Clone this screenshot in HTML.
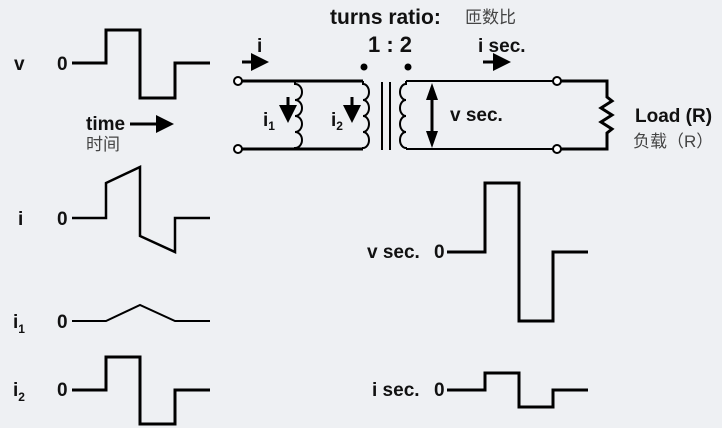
<!DOCTYPE html>
<html><head><style>
html,body{margin:0;padding:0;background:#eef0f3;}
svg{display:block;font-family:"Liberation Sans","Noto Sans CJK SC",sans-serif;}
.b{font-weight:bold;font-size:19px;fill:#111}
.c{font-size:17px;fill:#444}
</style></head><body>
<svg width="722" height="428" viewBox="0 0 722 428">
<defs><marker id="ah" markerWidth="6" markerHeight="6" refX="5" refY="3" orient="auto" markerUnits="strokeWidth"><path d="M0,0L6,3L0,6Z" fill="#000"/></marker></defs>
<g fill="none" stroke="#000" stroke-width="3">
<polyline points="72,63 106,63 106,30 140,30 140,98 175,98 175,63 210,63"/>
<polyline points="72,218 106,218 106,183 140,167 140,236 175,252 175,218 210,218" stroke-width="2.5"/>
<polyline points="72,321 106,321 140,305 175,321 210,321" stroke-width="2"/>
<polyline points="72,390 106,390 106,357 140,357 140,424 175,424 175,390 210,390"/>
<polyline points="447,252 485,252 485,183 519,183 519,321 553,321 553,252 588,252"/>
<polyline points="447,390 485,390 485,373 519,373 519,407 553,407 553,390 588,390"/>
<line x1="242" y1="81" x2="363" y2="81"/>
<line x1="242" y1="149" x2="363" y2="149"/>
<path d="M295,81 V84 a7,8 0 0 1 0,16 a7,8 0 0 1 0,16 a7,8 0 0 1 0,16 a7,8 0 0 1 0,16 V149" stroke-width="2"/>
<path d="M363,81 V84 a6,8 0 0 1 0,16 a6,8 0 0 1 0,16 a6,8 0 0 1 0,16 a6,8 0 0 1 0,16 V149" stroke-width="2"/>
<line x1="382" y1="82" x2="382" y2="150" stroke-width="2"/>
<line x1="390" y1="82" x2="390" y2="150" stroke-width="2"/>
<path d="M406,81 V84 a6,8 0 0 0 0,16 a6,8 0 0 0 0,16 a6,8 0 0 0 0,16 a6,8 0 0 0 0,16 V149" stroke-width="2"/>
<line x1="406" y1="81" x2="553" y2="81" stroke-width="2"/>
<line x1="406" y1="149" x2="553" y2="149" stroke-width="2"/>
<polyline points="561,81 607,81 607,97 612,101 601,108 612,115 601,122 612,129 607,133 607,149 561,149"/>
<line x1="242" y1="62" x2="266" y2="62" marker-end="url(#ah)"/>
<line x1="483" y1="62" x2="508" y2="62" marker-end="url(#ah)"/>
<line x1="130" y1="124" x2="171" y2="124" marker-end="url(#ah)"/>
<line x1="288" y1="97" x2="288" y2="120" marker-end="url(#ah)"/>
<line x1="352" y1="97" x2="352" y2="120" marker-end="url(#ah)"/>
<line x1="432" y1="100" x2="432" y2="131" stroke-width="3"/>
</g>
<path d="M432,83 L426,100 L438,100Z M432,148 L426,131 L438,131Z" fill="#000"/>
<g fill="#fff" stroke="#000" stroke-width="2">
<circle cx="238" cy="81" r="4"/><circle cx="238" cy="149" r="4"/>
<circle cx="557" cy="81" r="4"/><circle cx="557" cy="149" r="4"/>
</g>
<circle cx="364" cy="67" r="3.5"/><circle cx="408" cy="67" r="3.5"/>
<text x="330" y="24" class="b" style="font-size:21px">turns ratio:</text>
<text x="465" y="23" class="c">匝数比</text>
<text x="368" y="52" class="b" style="font-size:22px">1 : 2</text>
<text x="257" y="52" class="b">i</text>
<text x="478" y="52" class="b">i sec.</text>
<text x="263" y="126" class="b">i<tspan font-size="12" dy="4">1</tspan></text>
<text x="331" y="126" class="b">i<tspan font-size="12" dy="4">2</tspan></text>
<text x="450" y="121" class="b">v sec.</text>
<text x="635" y="122" class="b">Load (R)</text>
<text x="633" y="147" class="c">负载（R）</text>
<text x="86" y="130" class="b">time</text>
<text x="86" y="150" class="c">时间</text>
<text x="14" y="70" class="b">v</text><text x="57" y="70" class="b">0</text>
<text x="18" y="225" class="b">i</text><text x="57" y="225" class="b">0</text>
<text x="13" y="328" class="b">i<tspan font-size="12" dy="5">1</tspan></text><text x="57" y="328" class="b">0</text>
<text x="13" y="396" class="b">i<tspan font-size="12" dy="5">2</tspan></text><text x="57" y="396" class="b">0</text>
<text x="367" y="258" class="b">v sec.</text><text x="434" y="258" class="b">0</text>
<text x="372" y="396" class="b">i sec.</text><text x="434" y="396" class="b">0</text>
</svg>
</body></html>
